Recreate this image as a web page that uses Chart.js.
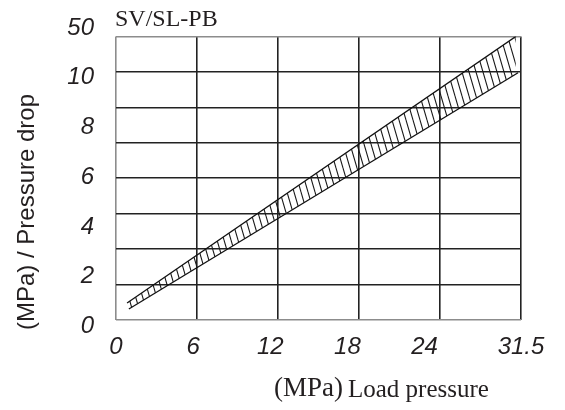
<!DOCTYPE html>
<html>
<head>
<meta charset="utf-8">
<title>SV/SL-PB</title>
<script src="https://cdn.jsdelivr.net/npm/chart.js@4.4.1/dist/chart.umd.min.js"></script>
<style>
  html, body { margin: 0; padding: 0; background: #fff; }
  canvas { display: block; }
</style>
</head>
<body>
<canvas id="chart" width="565" height="410"></canvas>
<script>
// Graduations
const xTickValues = [0, 6, 12, 18, 24, 31.5];
const xTickLabels = ['0', '6', '12', '18', '24', '31.5'];
const yTickValues = [0, 2, 4, 6, 8, 10, 12];
const yTickLabels = ['0', '2', '4', '6', '8', '10', '50'];

// Bande SV/SL-PB : pression de charge (MPa) -> perte de charge (MPa)
const loadUpper = [0.86, 31.1];
const dropUpper = [0.94, 11.66];
const loadLower = [1.0, 31.27];
const dropLower = [0.70, 10.2];

const textColor = '#231f20';
const lineColor = '#222';
const edgeColor = '#8c8c8c';

const canvas = document.getElementById('chart');
const ctx = canvas.getContext('2d');

// Motif de hachures pour remplir la bande
function makeHatch() {
    const c = document.createElement('canvas');
    c.width = 7;
    c.height = 24;
    const g = c.getContext('2d');
    g.strokeStyle = '#1a1a1a';
    g.lineWidth = 1.1;
    g.beginPath();
    g.moveTo(0, 0); g.lineTo(7, 24);
    g.moveTo(-7, 0); g.lineTo(0, 24);
    g.moveTo(7, 0); g.lineTo(14, 24);
    g.stroke();
    return ctx.createPattern(c, 'repeat');
}

const tickFont = { family: '"Liberation Sans", Arial, sans-serif', size: 24, style: 'italic' };

// Titres dessinés à la main pour coller à la mise en page
const titlesPlugin = {
    id: 'titles',
    afterDraw(chart) {
        const c = chart.ctx;
        const area = chart.chartArea;
        c.save();
        c.fillStyle = textColor;
        c.textBaseline = 'alphabetic';
        c.textAlign = 'left';
        c.font = '24px "Liberation Serif", "Times New Roman", serif';
        c.fillText('SV/SL-PB', area.left - 1, 26);

        c.font = '27px "Liberation Serif", "Times New Roman", serif';
        c.fillText('(MPa)', 274, 396);
        c.font = '25px "Liberation Serif", "Times New Roman", serif';
        c.fillText('Load pressure', 348, 397);

        c.translate(27, 212);
        c.rotate(-Math.PI / 2);
        c.textAlign = 'center';
        c.textBaseline = 'middle';
        c.font = '24px "Liberation Sans", Arial, sans-serif';
        c.fillText('(MPa) / Pressure drop', 0, 0);
        c.restore();
    }
};

const hatch = makeHatch();

new Chart(ctx, {
    type: 'line',
    data: {
        datasets: [
            {
                label: 'upper',
                data: loadUpper.map((x, i) => ({ x: x, y: dropUpper[i] })),
                borderColor: '#111',
                borderWidth: 1.3,
                pointRadius: 0,
                tension: 0,
                fill: '+1',
                backgroundColor: hatch,
                xAxisID: 'xLab',
                yAxisID: 'y'
            },
            {
                label: 'lower',
                data: loadLower.map((x, i) => ({ x: x, y: dropLower[i] })),
                borderColor: '#111',
                borderWidth: 1.3,
                pointRadius: 0,
                tension: 0,
                fill: false,
                xAxisID: 'xLab',
                yAxisID: 'y'
            }
        ]
    },
    options: {
        responsive: false,
        animation: false,
        layout: { padding: { top: 35, right: 44, bottom: 0, left: 0 } },
        plugins: {
            legend: { display: false },
            tooltip: { enabled: false }
        },
        scales: {
            // grille régulière 5 x 8
            x: {
                type: 'linear', axis: 'x', position: 'bottom', weight: 0,
                min: 0, max: 5,
                ticks: { display: false, stepSize: 1 },
                grid: {
                    drawTicks: false,
                    lineWidth: 1.6,
                    color: (c) => c.tick && c.tick.value === 0 ? edgeColor : lineColor
                },
                border: { display: false }
            },
            yGrid: {
                type: 'linear', axis: 'y', position: 'left', weight: 0,
                min: 0, max: 8,
                ticks: { display: false, stepSize: 1 },
                grid: {
                    drawTicks: false,
                    lineWidth: 1.6,
                    color: (c) => c.tick && (c.tick.value === 0 || c.tick.value === 8) ? edgeColor : lineColor
                },
                border: { display: false }
            },
            // axes des valeurs (étiquettes)
            xLab: {
                type: 'linear', axis: 'x', position: 'bottom', weight: 1,
                min: 0, max: 31.5,
                afterBuildTicks: (scale) => { scale.ticks = xTickValues.map(v => ({ value: v })); },
                afterFit: (scale) => { scale.height = 90; },
                ticks: {
                    autoSkip: false,
                    maxRotation: 0,
                    padding: 13,
                    color: textColor,
                    font: tickFont,
                    callback: (value, index) => xTickLabels[index]
                },
                grid: { display: false, drawTicks: false },
                border: { display: false }
            },
            y: {
                type: 'linear', axis: 'y', position: 'left', weight: 1,
                min: 0.26, max: 11.66,
                afterBuildTicks: (scale) => { scale.ticks = yTickValues.map(v => ({ value: v })); },
                afterFit: (scale) => { scale.width = 116; },
                ticks: {
                    autoSkip: false,
                    padding: 22,
                    color: textColor,
                    font: tickFont,
                    callback: (value, index) => yTickLabels[index]
                },
                grid: { display: false, drawTicks: false },
                border: { display: false }
            }
        }
    },
    plugins: [titlesPlugin]
});
</script>
</body>
</html>
